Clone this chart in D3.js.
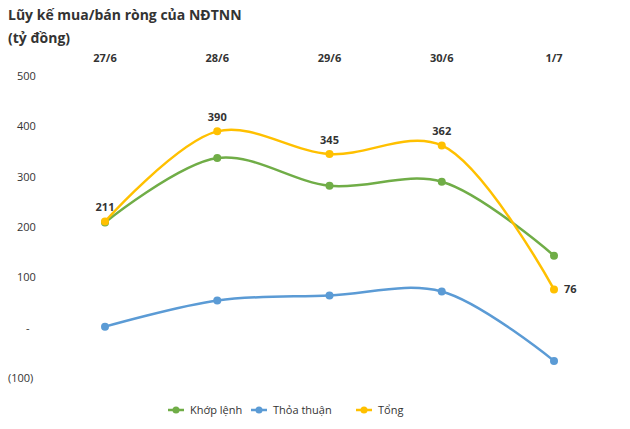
<!DOCTYPE html>
<html><head><meta charset="utf-8">
<script src="https://cdn.jsdelivr.net/npm/d3@7"></script>
<style>body{margin:0;background:#fff;font-family:"Open Sans",Calibri,sans-serif;}</style>
</head><body>
<svg id="c" width="630" height="429"></svg>
<script>
const dates = ['27/6', '28/6', '29/6', '30/6', '1/7'];
const khopLenh = [209, 337, 282, 290, 143];
const thoaThuan = [2, 54, 64, 72, -66];
const tong = [211, 390, 345, 362, 76];
const yTicks = [500, 400, 300, 200, 100, 0, -100];

const svg = d3.select('#c');
const x = d3.scalePoint().domain(dates).range([105, 554]);
const y = d3.scaleLinear().domain([-100, 500]).range([378, 76]);

svg.append('text').attr('x', 8).attr('y', 20).attr('font-size', 14).attr('font-weight', 'bold')
  .attr('fill', '#333').text('Lũy kế mua/bán ròng của NĐTNN');
svg.append('text').attr('x', 8).attr('y', 43).attr('font-size', 14).attr('font-weight', 'bold')
  .attr('fill', '#333').text('(tỷ đồng)');

// y labels
svg.selectAll('.yt').data(yTicks).join('text')
  .attr('x', d => d < 0 ? 8 : (d === 0 ? 26 : 17)).attr('y', d => y(d) + 4)
  .attr('font-size', 11).attr('fill', '#333')
  .text(d => d === 0 ? '-' : d < 0 ? '(' + (-d) + ')' : d);

// x labels on top
svg.selectAll('.xt').data(dates).join('text')
  .attr('x', d => x(d)).attr('y', 62).attr('text-anchor', 'middle')
  .attr('font-size', 11).attr('font-weight', 'bold').attr('fill', '#333').text(d => d);

const series = [
  {name: 'Khớp lệnh', vals: khopLenh, color: '#70ad47'},
  {name: 'Thỏa thuận', vals: thoaThuan, color: '#5b9bd5'},
  {name: 'Tổng', vals: tong, color: '#ffc000'}
];
const line = d3.line().x((d, i) => x(dates[i])).y(d => y(d)).curve(d3.curveCatmullRom.alpha(0.5));
series.forEach(s => {
  svg.append('path').attr('d', line(s.vals)).attr('fill', 'none')
    .attr('stroke', s.color).attr('stroke-width', 2.5);
  svg.selectAll(null).data(s.vals).join('circle')
    .attr('cx', (d, i) => x(dates[i])).attr('cy', d => y(d)).attr('r', 4).attr('fill', s.color);
});
svg.selectAll('.lb').data(tong).join('text')
  .attr('x', (d, i) => i === 4 ? x(dates[i]) + 10 : x(dates[i]))
  .attr('y', (d, i) => i === 4 ? y(d) + 4 : y(d) - 10)
  .attr('text-anchor', (d, i) => i === 4 ? 'start' : 'middle')
  .attr('font-size', 11).attr('font-weight', 'bold').attr('fill', '#333').text(d => d);

// legend
const lx = [168, 251, 356];
series.forEach((s, i) => {
  svg.append('line').attr('x1', lx[i]).attr('x2', lx[i] + 16).attr('y1', 410).attr('y2', 410)
    .attr('stroke', s.color).attr('stroke-width', 2.5);
  svg.append('circle').attr('cx', lx[i] + 8).attr('cy', 410).attr('r', 3.5).attr('fill', s.color);
  svg.append('text').attr('x', lx[i] + 22).attr('y', 414).attr('font-size', 11)
    .attr('fill', '#333').text(s.name);
});
</script>
</body></html>
